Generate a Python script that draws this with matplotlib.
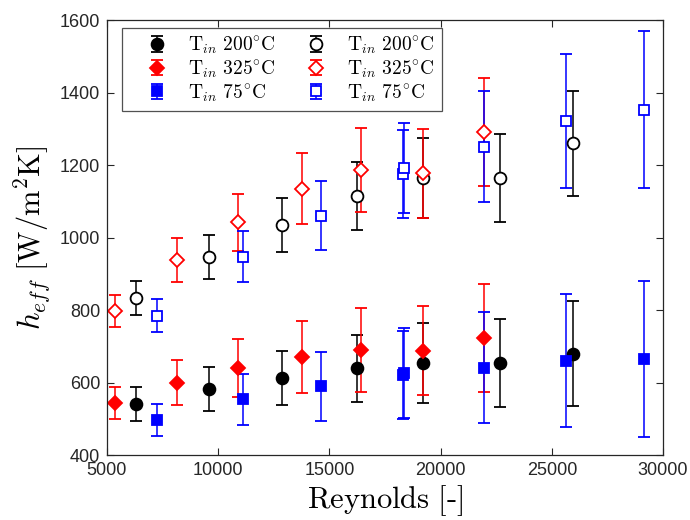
import matplotlib
matplotlib.use("Agg")
import matplotlib.pyplot as plt
from matplotlib.container import ErrorbarContainer
from matplotlib.legend_handler import HandlerErrorbar

# -----------------------------
# DATA
# -----------------------------
re_200 = [6300, 9570, 12860, 16230, 19200, 22670, 25930]
h_200_filled = [541, 582, 613, 639, 653, 653, 680]
h_200_open = [833, 946, 1035, 1115, 1165, 1165, 1260]
err_200 = [46, 61, 75, 93, 110, 121, 145]

re_325 = [5370, 8170, 10910, 13760, 16410, 19200, 21950]
h_325_filled = [543, 599, 640, 671, 690, 688, 722]
h_325_open = [797, 938, 1042, 1135, 1185, 1177, 1290]
err_325 = [45, 62, 79, 99, 116, 123, 149]

re_75 = [7250, 11110, 14630, 18300, 18360, 21950, 25630, 29150]
h_75_filled = [497, 554, 590, 620, 625, 641, 660, 665]
h_75_open = [784, 947, 1060, 1175, 1191, 1251, 1321, 1353]
err_75 = [45, 70, 95, 121, 124, 154, 184, 216]

labels = [r"$\mathrm{T}_{in}\ 200^{\circ}\mathrm{C}$",
          r"$\mathrm{T}_{in}\ 325^{\circ}\mathrm{C}$",
          r"$\mathrm{T}_{in}\ 75^{\circ}\mathrm{C}$"]

# -----------------------------
# STYLE
# -----------------------------
plt.rcParams["mathtext.fontset"] = "cm"
plt.rcParams["font.family"] = ["Liberation Sans", "DejaVu Sans"]

fig = plt.figure(figsize=(6.9, 5.2), dpi=100)
ax = fig.add_axes([0.155, 0.125, 0.806, 0.8365])

common = dict(linestyle="none", capsize=4, elinewidth=1.1, capthick=1.1,
              markeredgewidth=1.3)

groups = [
    (re_200, h_200_filled, h_200_open, err_200, "black", "o", 8.5),
    (re_325, h_325_filled, h_325_open, err_325, "#ff0000", "D", 7),
    (re_75, h_75_filled, h_75_open, err_75, "#0000ff", "s", 7),
]

filled_handles = []
open_handles = []
for (re, hf, ho, err, col, mk, ms), lab in zip(groups, labels):
    hfill = ax.errorbar(re, hf, yerr=err, color=col, marker=mk, ms=ms,
                        mfc=col, mec=col, label=lab, **common)
    hopen = ax.errorbar(re, ho, yerr=err, color=col, marker=mk, ms=ms,
                        mfc="white", mec=col, label=lab, **common)
    filled_handles.append(hfill)
    open_handles.append(hopen)

ax.set_xlim(5000, 30000)
ax.set_ylim(400, 1600)
ax.set_xticks([5000, 10000, 15000, 20000, 25000, 30000])
ax.set_yticks([400, 600, 800, 1000, 1200, 1400, 1600])

ax.tick_params(direction="in", top=True, right=True, labelsize=13,
               colors="#262626", length=5, pad=5)
for s in ax.spines.values():
    s.set_color("#262626")
    s.set_linewidth(0.9)

ax.set_xlabel(r"$\mathrm{Reynolds\ [\text{-}]}$", fontsize=22, labelpad=3)
ax.set_ylabel(r"$h_{eff}\ [\mathrm{W/m^2K}]$", fontsize=22, labelpad=5)

handles = filled_handles + open_handles
leg = ax.legend(handles, labels + labels, ncol=2, loc="upper left",
                bbox_to_anchor=(0.027, 0.982), borderaxespad=0,
                fontsize=14, frameon=True,
                fancybox=False, edgecolor="#262626", handletextpad=0.15,
                columnspacing=0.63, labelspacing=0.1, borderpad=0.35,
                handlelength=2.9,
                handler_map={ErrorbarContainer: HandlerErrorbar(yerr_size=0.4)})
leg.get_frame().set_linewidth(0.9)

fig.savefig("out.png", dpi=100)
